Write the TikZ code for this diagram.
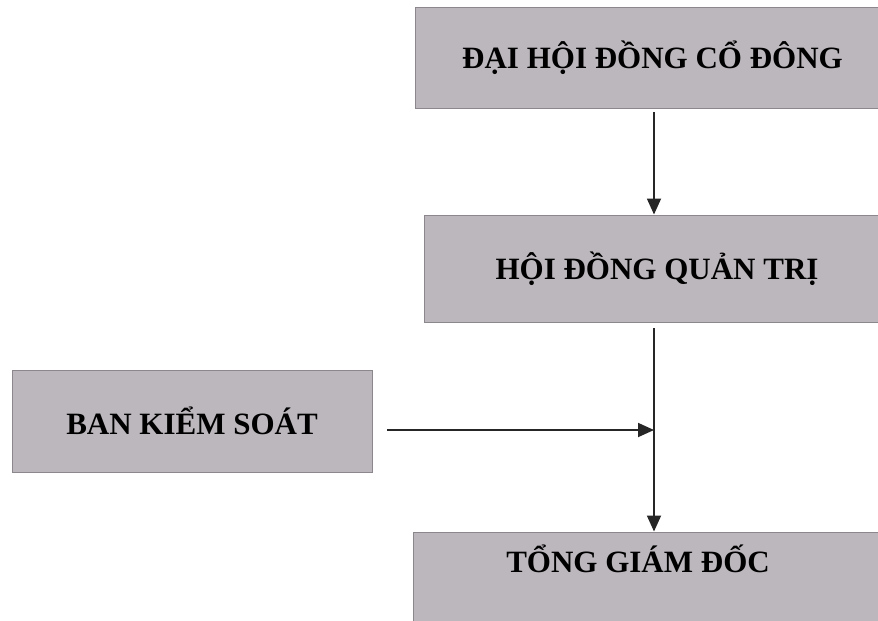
\documentclass[tikz,border=0pt]{standalone}
\usepackage{fontspec}
\setmainfont{Liberation Serif}
\usetikzlibrary{arrows.meta}
\definecolor{boxfill}{RGB}{188,183,189}
\definecolor{boxline}{RGB}{140,135,140}
\tikzset{
  orgbox/.style={draw=boxline, line width=1pt, fill=boxfill, inner sep=0pt,
    font=\fontsize{31}{36}\selectfont\bfseries},
  lbl/.style={inner sep=0pt, font=\fontsize{31}{36}\selectfont\bfseries},
  arr/.style={draw=black!85, line width=1.8pt, -{Triangle[length=16pt,width=14pt]}}
}
\begin{document}
\begin{tikzpicture}[x=1pt,y=-1pt]
\useasboundingbox (0,0) rectangle (878,621);
\node[orgbox, minimum width=475, minimum height=101] (dhdcd) at (652.5,57.5) {ĐẠI HỘI ĐỒNG CỔ ĐÔNG};
\node[orgbox, minimum width=466, minimum height=107] (hdqt) at (657,268.5) {HỘI ĐỒNG QUẢN TRỊ};
\node[orgbox, minimum width=360, minimum height=102] (bks) at (192,421) {BAN KIỂM SOÁT};
\node[orgbox, minimum width=477, minimum height=110] (tgd) at (651.5,587) {};
\node[lbl] (tgd-t) at (638,559) {TỔNG GIÁM ĐỐC};
\coordinate (j) at (654,430);
\coordinate (hstart) at (387,430);
\coordinate (vtop) at (654,112);
\coordinate (vmid) at (654,328);
\draw[arr] (vtop) -- (hdqt.north -| j);
\draw[arr] (vmid) -- (tgd.north -| j);
\draw[arr] (hstart) -- (j);
\end{tikzpicture}
\end{document}
